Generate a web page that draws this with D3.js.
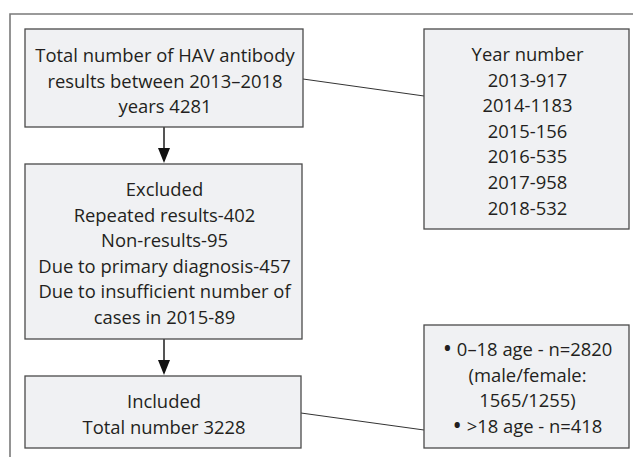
<!DOCTYPE html>
<html><head><meta charset="utf-8">
<script src="https://cdn.jsdelivr.net/npm/d3@7"></script>
<style>html,body{margin:0;padding:0;background:#fff;}svg{display:block;}</style>
</head><body>
<script>
const totalLines = ["Total number of HAV antibody", "results between 2013\u20132018", "years 4281"];
const yearTitle = "Year number";
const years = ["2013", "2014", "2015", "2016", "2017", "2018"];
const yearCounts = [917, 1183, 156, 535, 958, 532];
const excludedLines = ["Excluded", "Repeated results-402", "Non-results-95", "Due to primary diagnosis-457", "Due to insufficient number of", "cases in 2015-89"];
const includedLines = ["Included", "Total number 3228"];
const ageLines = ["\u2022 0\u201318 age - n=2820", "(male/female:", "1565/1255)", "\u2022 >18 age - n=418"];

const W = 633, H = 459;
const svg = d3.select("body").append("svg").attr("width", W).attr("height", H);
const FONT = "'Open Sans', Lato, sans-serif";
const FS = 18.4, LH = 25.6;

// outer frame
svg.append("path").attr("d", `M10,457 L10,14 L633,14`).attr("fill", "none")
  .attr("stroke", "#7a7a7a").attr("stroke-width", 1.6);

const boxes = [
  {x: 25, y: 29, w: 278, h: 98, lines: totalLines, base: 62},
  {x: 424, y: 29, w: 205, h: 200, lines: [yearTitle].concat(years.map((y, i) => `${y}-${yearCounts[i]}`)), base: 61},
  {x: 25, y: 164, w: 277, h: 175, lines: excludedLines, base: 196},
  {x: 25, y: 376, w: 276, h: 72, lines: includedLines, base: 408},
  {x: 424, y: 325, w: 205, h: 123, lines: ageLines, base: 356}
];

// connectors
const conn = [
  [303, 79, 424, 96],
  [301, 413, 424, 430]
];
svg.selectAll("line.conn").data(conn).join("line").attr("class", "conn")
  .attr("x1", d => d[0]).attr("y1", d => d[1]).attr("x2", d => d[2]).attr("y2", d => d[3])
  .attr("stroke", "#333").attr("stroke-width", 1);

// arrows
const arrows = [[164, 127, 164], [164, 339, 376]];
arrows.forEach(a => {
  const x = a[0], y1 = a[1], y2 = a[2];
  svg.append("line").attr("x1", x).attr("x2", x).attr("y1", y1).attr("y2", y2 - 14)
    .attr("stroke", "#555").attr("stroke-width", 2);
  svg.append("path").attr("d", `M${x - 6},${y2 - 16} L${x + 6},${y2 - 16} L${x},${y2 - 1} Z`)
    .attr("fill", "#111");
});

const g = svg.selectAll("g.box").data(boxes).join("g").attr("class", "box");
g.append("rect").attr("x", d => d.x).attr("y", d => d.y).attr("width", d => d.w).attr("height", d => d.h)
  .attr("fill", "#f0f1f3").attr("stroke", "#4a4a4a").attr("stroke-width", 1.3);
g.each(function(d) {
  const t = d3.select(this).selectAll("text").data(d.lines).join("text")
    .attr("x", d.x + d.w / 2 + 1).attr("y", (t, i) => d.base + i * LH)
    .attr("text-anchor", "middle").attr("font-family", FONT).attr("font-size", FS)
    .attr("fill", "#231f20");
  t.each(function(s) {
    const el = d3.select(this);
    if (s.startsWith("\u2022")) {
      el.append("tspan").attr("font-size", FS * 1.35).attr("dy", 1).text("\u2022");
      el.append("tspan").attr("dy", -1).text(s.slice(1));
    } else {
      el.text(s);
    }
  });
});
</script>
</body></html>
